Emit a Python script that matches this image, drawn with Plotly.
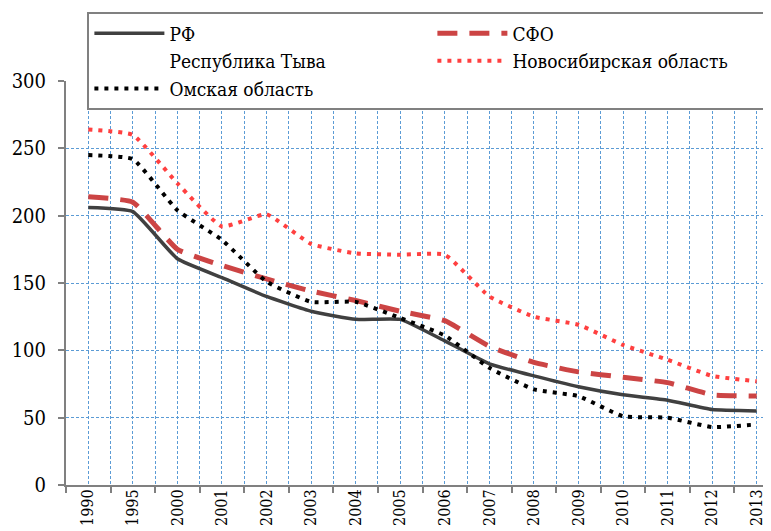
import plotly.graph_objects as go

# годы (категории по оси X)
years = ['1990', '1995', '2000', '2001', '2002', '2003', '2004', '2005',
         '2006', '2007', '2008', '2009', '2010', '2011', '2012', '2013']

# значения рядов
rf = [206, 203, 168, 154, 140, 129, 123, 123, 107, 90, 81, 73, 67, 63, 56, 55]
sfo = [214, 210, 175, 163, 153, 144, 137, 129, 122, 103, 91, 84, 80, 76, 67, 66]
tyva = [None] * len(years)
novosib = [264, 260, 224, 192, 201, 179, 172, 171, 171, 140, 125, 119, 104, 93, 81, 77]
omsk = [245, 242, 204, 182, 151, 136, 136, 124, 111, 87, 71, 66, 51, 50, 43, 45]

y_ticks = [0, 50, 100, 150, 200, 250, 300]

pos = list(range(len(years)))
font = 'DejaVu Serif Condensed, DejaVu Serif'
grid_blue = '#5B9BD5'
sm = 0.4

fig = go.Figure()
fig.add_trace(go.Scatter(x=pos, y=rf, mode='lines', name='РФ',
                         line=dict(color='#404040', width=3.5, shape='spline', smoothing=sm)))
fig.add_trace(go.Scatter(x=pos, y=sfo, mode='lines', name='СФО',
                         line=dict(color='#CC4444', width=5, dash='20px,12px', shape='spline', smoothing=sm)))
fig.add_trace(go.Scatter(x=pos, y=tyva, mode='lines', name='Республика Тыва',
                         line=dict(color='rgba(0,0,0,0)', width=0)))
fig.add_trace(go.Scatter(x=pos, y=novosib, mode='lines', name='Новосибирская область',
                         line=dict(color='#FF4040', width=4, dash='4px,6px', shape='spline', smoothing=sm)))
fig.add_trace(go.Scatter(x=pos, y=omsk, mode='lines', name='Омская область',
                         line=dict(color='#000000', width=4, dash='4px,6px', shape='spline', smoothing=sm)))

fig.update_layout(
    width=771, height=531,
    margin=dict(l=58, r=0, t=73, b=54),
    paper_bgcolor='white', plot_bgcolor='white',
    font=dict(family=font, size=19, color='black'),
    showlegend=True,
    legend=dict(orientation='h', x=0.03, y=1.17, xanchor='left', yanchor='top',
                entrywidth=258, itemwidth=70, tracegroupgap=0,
                bordercolor='#808080', borderwidth=2, bgcolor='white',
                font=dict(family=font, size=19)),
    xaxis=dict(range=[-0.5, len(years) - 0.5], tickmode='array', tickvals=pos, ticktext=years,
               tickangle=-90, ticks='', showgrid=True, gridcolor=grid_blue, griddash='3px,2px', gridwidth=1,
               showline=True, linecolor='#808080', linewidth=2, zeroline=False,
               ticklabelstandoff=-4, tickfont=dict(family=font, size=16),
               minor=dict(tick0=0.5, dtick=1, ticks='outside', ticklen=6, tickwidth=2, tickcolor='#808080',
                          showgrid=True, gridcolor=grid_blue, griddash='3px,2px', gridwidth=1)),
    yaxis=dict(range=[0, 300], tickmode='array', tickvals=y_ticks, ticks='outside', ticklen=6,
               tickwidth=2, tickcolor='#808080', showgrid=True, gridcolor=grid_blue, griddash='3px,2px',
               gridwidth=1, showline=True, linecolor='#808080', linewidth=2, zeroline=False,
               ticklabelstandoff=8, tickfont=dict(family=font, size=20)),
)

fig.write_html('out.html')
